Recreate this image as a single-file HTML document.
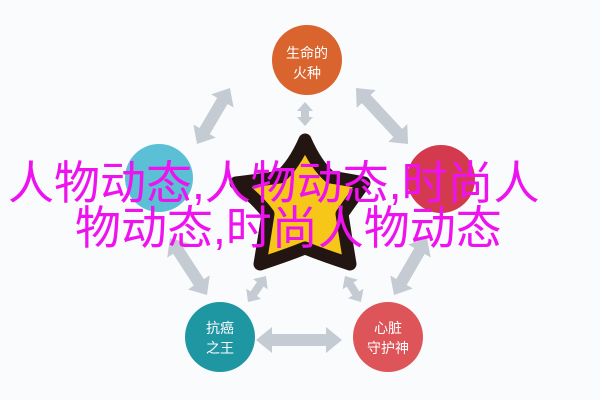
<!DOCTYPE html>
<html><head><meta charset="utf-8"><style>
body{margin:0;width:600px;height:400px;overflow:hidden;background:#fafbfd;position:relative}
.t{position:absolute;font-family:"Liberation Sans","Noto Sans CJK SC",sans-serif;color:#ee12ee;font-size:46px;line-height:46px;white-space:nowrap}
</style></head><body>
<svg id="s" width="600" height="400" style="position:absolute;left:0;top:0">
<g id="ar" fill="#c5cbd3"></g>
<circle cx="307" cy="60" r="35" fill="#d9642e"/>
<circle cx="159" cy="178" r="34" fill="#5bbfd6"/>
<circle cx="441" cy="179" r="34" fill="#d43a4e"/>
<circle cx="220" cy="337" r="35" fill="#1f97a3"/>
<circle cx="388" cy="337" r="35" fill="#dd5558"/>
<path d="M305,140 Q316,165 330,177 Q350,180 364,183 Q352,200 342,214 Q346,240 350,264 Q325,256 305,248 Q285,256 260,264 Q264,240 268,214 Q258,200 236,183 Q260,180 280,177 Q294,165 305,140Z" fill="#f6c619" stroke="#231512" stroke-width="13" stroke-linejoin="round"/>
<g font-family="Liberation Sans,Noto Sans CJK SC,sans-serif" font-size="14" fill="#fff" text-anchor="middle">
<text x="307" y="58">生命的</text><text x="307" y="78">火种</text>
<text x="220" y="333">抗癌</text><text x="220" y="353">之王</text>
<text x="388" y="333">心脏</text><text x="388" y="353">守护神</text>
</g>
</svg>
<script>
function arr(x1,y1,x2,y2,w,hw,hl){var dx=x2-x1,dy=y2-y1,L=Math.hypot(dx,dy),ux=dx/L,uy=dy/L,nx=-uy,ny=ux;
function p(a,b){return [x1+ux*a+nx*b,y1+uy*a+ny*b].join(',')}
var pts=[p(0,0),p(hl,hw),p(hl,w),p(L-hl,w),p(L-hl,hw),p(L,0),p(L-hl,-hw),p(L-hl,-w),p(hl,-w),p(hl,-hw)];
var e=document.createElementNS('http://www.w3.org/2000/svg','polygon');e.setAttribute('points',pts.join(' '));document.getElementById('ar').appendChild(e);}
arr(230,88,197,144,6,13,15);
arr(356,88,408,144,6,13,15);
arr(170,238,207,295,6,13,15);
arr(427,238,394,295,6,13,15);
arr(305,102,305,126,4,8,9);
arr(266,276,248,302,4,9,10);
arr(345,276,361,302,4,9,10);
arr(256,340,342,340,6,13,16);
</script>
<div class="t" style="left:8px;top:160px">人物动态,人物动态,时尚人</div>
<div class="t" style="left:75px;top:205px">物动态,时尚人物动态</div>
</body></html>
